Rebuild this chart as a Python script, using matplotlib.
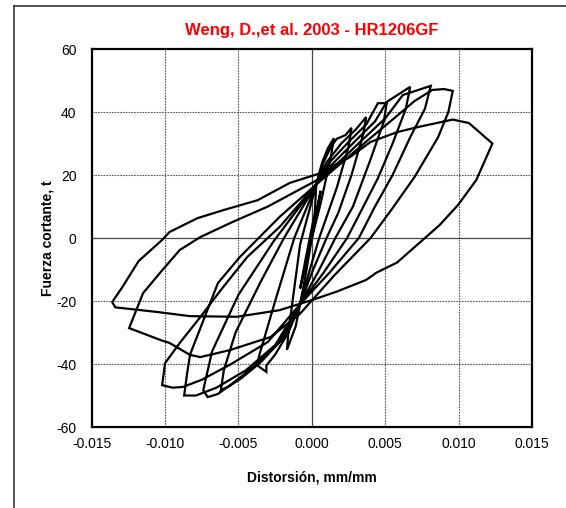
import matplotlib
matplotlib.use("Agg")
import matplotlib.pyplot as plt
from matplotlib.lines import Line2D

plt.rcParams['font.family'] = ['Liberation Sans', 'DejaVu Sans']
plt.rcParams['axes.unicode_minus'] = False

# hysteresis path: drift (mm/mm) and shear (t)
drift = [
    0.0, 0.0003, 0.0006, 0.0002, -0.0004, -0.0008, -0.0004, 0.0002, 0.0003,
    # cycle 1
    0.0007, 0.0011, 0.0015,
    0.0013, 0.0006, 0.0, -0.0004, -0.0008,
    -0.0011, -0.0015, -0.0017, -0.0016, -0.0008, 0.0003,
    # cycle 2
    0.0008, 0.0013, 0.0017, 0.0023, 0.0027,
    0.0025, 0.0017, 0.0005, -0.0002, -0.0008,
    -0.0016, -0.0025, -0.0031, -0.0031, -0.0037, -0.0036, -0.0025, -0.0012, 0.0003,
    # cycle 3
    0.0010, 0.0020, 0.0030, 0.0037,
    0.0035, 0.0027, 0.0018, 0.0010, 0.0, -0.0008,
    -0.0020, -0.0035, -0.0048, -0.0057, -0.0062, -0.0060, -0.0052, -0.0035, -0.0019, 0.0003,
    # cycle 4
    0.0012, 0.0025, 0.0037, 0.0045, 0.0051,
    0.0049, 0.0040, 0.0028, 0.0016, 0.0004, -0.0008,
    -0.0022, -0.0040, -0.0055, -0.0064, -0.0071, -0.0074, -0.0068, -0.0050, -0.0026, 0.0003,
    # cycle 5
    0.0014, 0.0030, 0.0043, 0.0051, 0.0067,
    0.0064, 0.0055, 0.0045, 0.0034, 0.0024, 0.0008, -0.0008,
    -0.0025, -0.0045, -0.0065, -0.0079, -0.0087, -0.0085, -0.0083, -0.0064, -0.0049, -0.0022, 0.0003,
    # cycle 6
    0.0016, 0.0034, 0.0050, 0.0062, 0.0081,
    0.0077, 0.0067, 0.0055, 0.0043, 0.0032, 0.0012, -0.0008,
    -0.0030, -0.0055, -0.0075, -0.0088, -0.0095, -0.0102, -0.0100,
    -0.0090, -0.0076, -0.0062, -0.0044, -0.0022, 0.0003,
    # cycle 7
    0.0018, 0.0038, 0.0056, 0.0070, 0.0082, 0.0090, 0.0096,
    0.0093, 0.0086, 0.0070, 0.0055, 0.0040, 0.0015, -0.0008,
    -0.0028, -0.0056, -0.0076, -0.0083, -0.0097, -0.0103, -0.01245,
    -0.0115, -0.0103, -0.0090, -0.0076, -0.0054, -0.0030, -0.0010, 0.0006,
    # cycle 8
    0.0015, 0.0026, 0.0040, 0.0058, 0.0072, 0.0096, 0.0107, 0.0123,
    0.0112, 0.00996, 0.0087, 0.0058, 0.0044, 0.0037, 0.0017, 0.0, -0.0022,
    -0.0051, -0.0083, -0.0105, -0.0134, -0.0136,
    -0.0129, -0.0118, -0.0102, -0.0097, -0.0078, -0.0060, -0.0037, -0.0015, 0.0006,
]
shear = [
    0, 8, 15, 5, -8, -16, -6, 8, 17,
    24, 28.6, 31.7,
    26, 11, 0, -11, -21,
    -28, -33, -35.5, -30, -2, 17,
    24, 29, 31.5, 32.7, 35,
    29, 16, 0, -11, -21,
    -30, -37, -40.5, -42.5, -40.5, -37.5, -20, 0, 17,
    24, 30, 34.5, 38.4,
    33, 20, 8, 0, -11, -21,
    -32, -39.5, -44.5, -47.2, -48.3, -42, -30, -14, 0, 17,
    24, 30.5, 36, 42.8, 42.8,
    37, 25, 10, 0, -11, -21,
    -33, -41, -46.5, -49.5, -50.5, -48.3, -36, -18, -1, 17,
    23.5, 31, 37, 43.2, 48,
    41, 30, 19, 9, 0, -11, -21,
    -34, -42, -47.5, -50, -50, -43, -37, -14.3, -6, 6.7, 17,
    23, 31, 38, 45.4, 48.3,
    41, 32, 20, 10, 0, -11, -21,
    -33, -40, -45, -47.3, -47.5, -46.7, -39.7,
    -33.3, -25.1, -16.5, -6, 3.5, 17,
    23, 31, 38, 43.5, 47, 47.3, 46.7,
    40, 32, 19.4, 9.5, 0, -12, -24,
    -31.4, -35.6, -37.8, -37.1, -33.3, -32.4, -28.6,
    -17.5, -10.8, -3.8, 0.3, 5.1, 10, 15, 19,
    23, 25.7, 30.5, 33.6, 35.2, 37.6, 36.5, 30,
    18.4, 10.5, 4.1, -7.8, -11, -13.3, -17, -19.7, -22.9,
    -25, -24.8, -23.5, -22, -20.3,
    -15.5, -7.3, -0.6, 1.9, 6.3, 8.9, 12, 17.5, 20.6,
]

x_ticks = [-0.015, -0.010, -0.005, 0.000, 0.005, 0.010, 0.015]
y_ticks = [-60, -40, -20, 0, 20, 40, 60]

fig = plt.figure(figsize=(5.66, 5.08), dpi=100)
ax = fig.add_axes([0.162, 0.1594, 0.778, 0.7441])

for xv in x_ticks[1:-1]:
    if xv == 0:
        ax.axvline(xv, color='#444444', lw=0.9, zorder=1)
    else:
        ax.axvline(xv, color='#555555', lw=0.8, ls=(0, (1.5, 1.0)), zorder=1)
for yv in y_ticks[1:-1]:
    if yv == 0:
        ax.axhline(yv, color='#444444', lw=0.9, zorder=1)
    else:
        ax.axhline(yv, color='#555555', lw=0.8, ls=(0, (1.5, 1.0)), zorder=1)

ax.plot(drift, shear, color='black', lw=1.6, solid_joinstyle='miter', zorder=3)

ax.set_xlim(-0.015, 0.015)
ax.set_ylim(-60, 60)
ax.set_xticks(x_ticks)
ax.set_xticklabels(['%.3f' % v for v in x_ticks])
ax.set_yticks(y_ticks)
ax.tick_params(axis='both', length=0, labelsize=10)
ax.tick_params(axis='x', pad=7)
ax.tick_params(axis='y', pad=11)
for sp in ax.spines.values():
    sp.set_linewidth(1.6)
    sp.set_color('black')

ax.set_title('Weng, D.,et al. 2003 - HR1206GF', color='red',
             fontweight='bold', fontsize=12, pad=10)
ax.set_xlabel('Distorsión, mm/mm', fontweight='bold', fontsize=10, labelpad=14)
ax.set_ylabel('Fuerza cortante, t', fontweight='bold', fontsize=10, labelpad=1)

# frame lines of the original picture (left and top)
fig.add_artist(Line2D([14 / 566, 14 / 566], [0, 1 - 6 / 508], color='#333333', lw=1.2))
fig.add_artist(Line2D([14 / 566, 1], [1 - 6 / 508, 1 - 6 / 508], color='#333333', lw=1.2))

fig.savefig('out.png', dpi=100)
